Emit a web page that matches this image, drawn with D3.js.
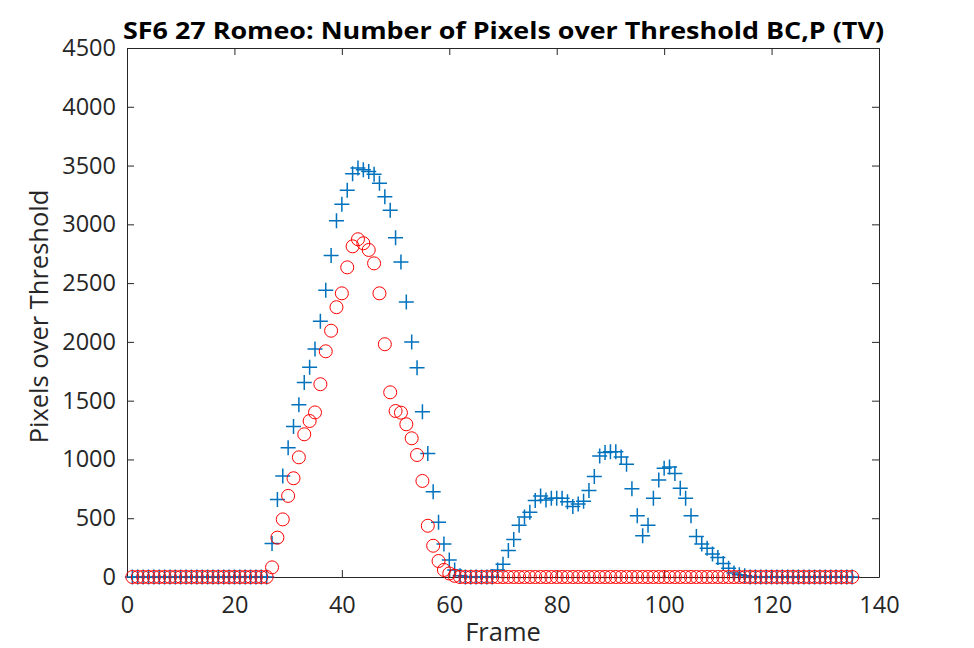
<!DOCTYPE html>
<html>
<head>
<meta charset="utf-8">
<script src="https://cdn.jsdelivr.net/npm/d3@7"></script>
<style>
  body { margin: 0; background: #fff; }
  text { font-family: "Open Sans", "DejaVu Sans", sans-serif; fill: #262626; }
</style>
</head>
<body>
<div id="graph"></div>
<script>
// Frame numbers and the two series (pixels over threshold)
let frames = d3.range(1, 136);

let tv_bc = [
  0, 0, 0, 0, 0, 0, 0, 0, 0, 0, 0, 0, 0, 0, 0, 0, 0, 0, 0, 0, 0, 0, 0, 0, 0, 0,
  285, 660, 860, 1100, 1280, 1465, 1655, 1785, 1940, 2175, 2440, 2735, 3030, 3170,
  3290, 3430, 3480, 3465, 3450, 3425, 3350, 3235, 3120, 2885, 2680, 2340, 2000, 1780,
  1405, 1050, 725, 465, 280, 145, 60,
  10, 0, 0, 0, 0, 0, 0,
  60, 108, 225, 320, 440, 510, 550, 650, 690, 655, 670, 670, 670, 640, 600, 620,
  645, 735, 855, 1030, 1060, 1065, 1065, 1020, 960, 750, 520, 350, 440, 670, 825,
  925, 935, 880, 755, 670, 520, 345, 280, 245, 195, 165, 115, 75, 35, 20, 10,
  0, 0, 0, 0, 0, 0, 0, 0, 0, 0, 0, 0, 0, 0, 0, 0, 0, 0, 0, 0
];

let tv_p = [
  0, 0, 0, 0, 0, 0, 0, 0, 0, 0, 0, 0, 0, 0, 0, 0, 0, 0, 0, 0, 0, 0, 0, 0, 0, 0,
  82, 335, 490, 690, 840, 1018, 1214, 1327, 1400, 1640, 1920, 2095, 2295, 2413,
  2634, 2813, 2873, 2839, 2782, 2668, 2413, 1980, 1571, 1412, 1398, 1299, 1180, 1038,
  817, 436, 266, 136, 60, 30, 10,
  0, 0, 0, 0, 0, 0, 0, 0, 0, 0, 0, 0, 0, 0, 0, 0, 0, 0, 0, 0, 0, 0, 0, 0, 0, 0,
  0, 0, 0, 0, 0, 0, 0, 0, 0, 0, 0, 0, 0, 0, 0, 0, 0, 0, 0, 0, 0, 0, 0, 0, 0, 0,
  0, 0, 0, 0, 0, 0, 0, 0, 0, 0, 0, 0, 0, 0, 0, 0, 0, 0, 0, 0, 0, 0
];

let x_ticks = [0, 20, 40, 60, 80, 100, 120, 140];
let y_ticks = [0, 500, 1000, 1500, 2000, 2500, 3000, 3500, 4000, 4500];

let width = 974, height = 648;
let ax_left = 127, ax_right = 879, ax_top = 48, ax_bottom = 577;

let xscale = d3.scaleLinear().domain([0, 140]).range([ax_left, ax_right]);
let yscale = d3.scaleLinear().domain([0, 4500]).range([ax_bottom, ax_top]);

let chart = d3.select("#graph")
    .append("svg")
      .attr("width", width)
      .attr("height", height);

chart.append("rect").attr("width", width).attr("height", height).attr("fill", "#fff");

// axes (ticks inward, mirrored on the opposite sides)
let axis_color = "#262626";
let tick_len = 7;

let gx = chart.append("g").attr("transform", "translate(0," + ax_bottom + ")")
    .call(d3.axisBottom(xscale).tickValues(x_ticks).tickSizeInner(-tick_len).tickSizeOuter(0)
          .tickPadding(19).tickFormat(d3.format("d")));
let gxt = chart.append("g").attr("transform", "translate(0," + ax_top + ")")
    .call(d3.axisTop(xscale).tickValues(x_ticks).tickSizeInner(-tick_len).tickSizeOuter(0).tickFormat(""));
let gy = chart.append("g").attr("transform", "translate(" + ax_left + ",0)")
    .call(d3.axisLeft(yscale).tickValues(y_ticks).tickSizeInner(-tick_len).tickSizeOuter(0)
          .tickPadding(11).tickFormat(d3.format("d")));
let gyr = chart.append("g").attr("transform", "translate(" + ax_right + ",0)")
    .call(d3.axisRight(yscale).tickValues(y_ticks).tickSizeInner(-tick_len).tickSizeOuter(0).tickFormat(""));

[gx, gxt, gy, gyr].forEach(function (g) {
  g.selectAll("path").attr("stroke", axis_color).attr("stroke-width", 1);
  g.selectAll("line").attr("stroke", axis_color).attr("stroke-width", 1);
  g.selectAll("text").style("font-family", "'Open Sans', sans-serif")
   .style("font-size", "23.5px").attr("fill", axis_color);
});

// blue plus markers
let arm = 7.5;
chart.append("g").selectAll("path")
    .data(frames)
    .enter()
    .append("path")
      .attr("d", function (f, i) {
        let cx = xscale(f), cy = yscale(tv_bc[i]);
        return "M" + (cx - arm) + "," + cy + "H" + (cx + arm) +
               "M" + cx + "," + (cy - arm) + "V" + (cy + arm);
      })
      .attr("stroke", "#0072BD")
      .attr("stroke-width", 1.5)
      .attr("fill", "none");

// red circle markers
chart.append("g").selectAll("circle")
    .data(frames)
    .enter()
    .append("circle")
      .attr("cx", function (f) { return xscale(f); })
      .attr("cy", function (f, i) { return yscale(tv_p[i]); })
      .attr("r", 6.5)
      .attr("fill", "none")
      .attr("stroke", "#FF0000")
      .attr("stroke-width", 1);

// labels
chart.append("text")
    .attr("x", 123)
    .attr("y", 39)
    .attr("textLength", 761)
    .attr("lengthAdjust", "spacingAndGlyphs")
    .style("font-size", "24px")
    .style("font-weight", "bold")
    .style("fill", "#000")
    .text("SF6 27 Romeo: Number of Pixels over Threshold BC,P (TV)");

chart.append("text")
    .attr("x", (ax_left + ax_right) / 2)
    .attr("y", 641)
    .attr("text-anchor", "middle")
    .style("font-size", "25.5px")
    .text("Frame");

chart.append("text")
    .attr("transform", "translate(48," + ((ax_top + ax_bottom) / 2 + 4) + ") rotate(-90)")
    .attr("text-anchor", "middle")
    .style("font-size", "25.5px")
    .text("Pixels over Threshold");
</script>
</body>
</html>
